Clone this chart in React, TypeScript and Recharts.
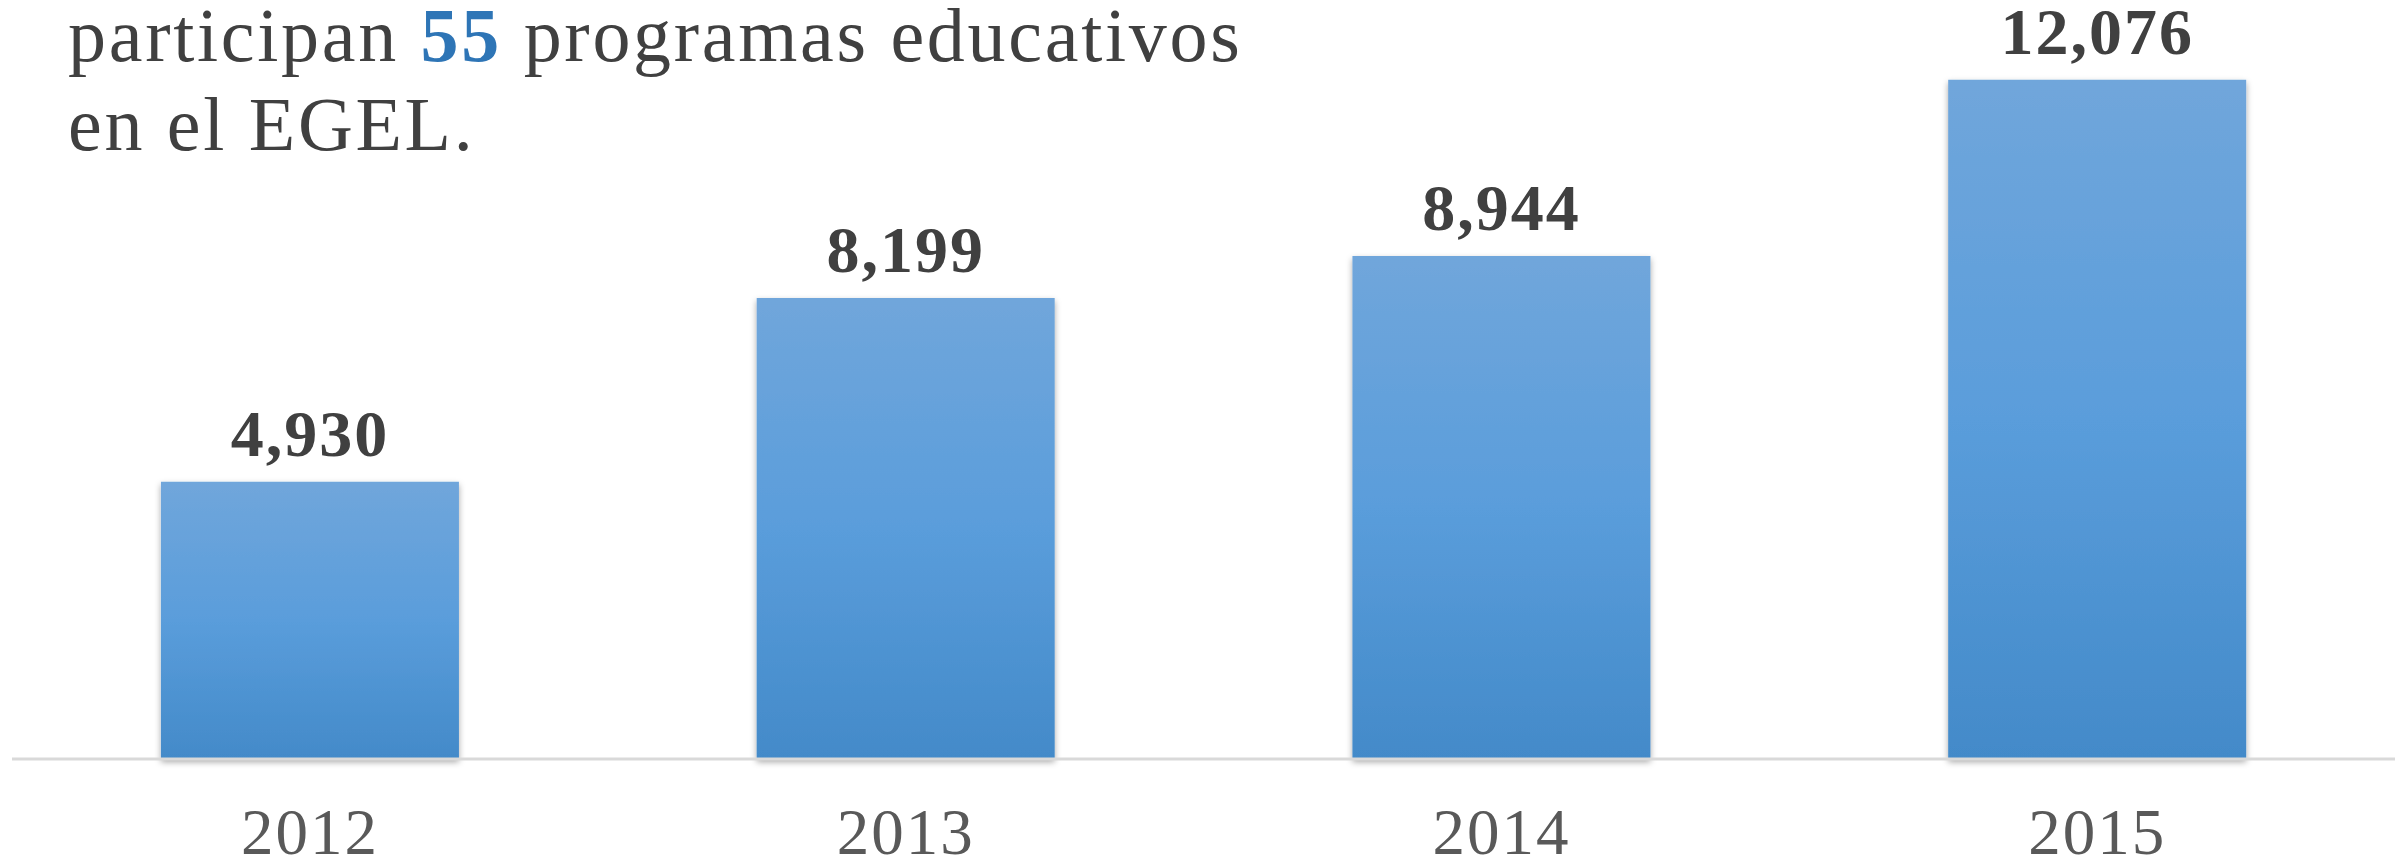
import React from "react";
import { BarChart, Bar, XAxis, YAxis, LabelList } from "recharts";

const years = ["2012", "2013", "2014", "2015"];
const sustentantes = [4930, 8199, 8944, 12076];

const data = years.map((y, i) => ({ year: y, value: sustentantes[i] }));

const fmt = (v: number) => v.toLocaleString("en-US");

export default function App() {
  return (
    <div style={{ position: "fixed", left: 0, top: 0, width: 2404, height: 863, background: "#fff", overflow: "hidden" }}>
      <BarChart width={2404} height={863} data={data} margin={{ top: 56, right: 9, bottom: 0, left: 12 }} barCategoryGap="25%">
        <defs>
          <linearGradient id="barGrad" x1="0" y1="0" x2="0" y2="1">
            <stop offset="0%" stopColor="#70a6db" />
            <stop offset="50%" stopColor="#5a9ddb" />
            <stop offset="100%" stopColor="#438ac9" />
          </linearGradient>
          <filter id="barShadow" x="-10%" y="-10%" width="120%" height="120%">
            <feDropShadow dx="0" dy="3" stdDeviation="3" floodColor="#000" floodOpacity="0.35" />
          </filter>
        </defs>
        <YAxis hide domain={[0, 12500]} />
        <XAxis
          dataKey="year"
          height={104}
          tickLine={false}
          tickSize={6}
          tickMargin={43}
          axisLine={{ stroke: "#d9d9d9", strokeWidth: 3 }}
          tick={{ fill: "#595959", fontSize: 65, letterSpacing: 2, fontFamily: "Liberation Serif, serif" }}
        />
        <Bar dataKey="value" fill="url(#barGrad)" filter="url(#barShadow)" isAnimationActive={false}>
          <LabelList
            dataKey="value"
            position="top"
            offset={26}
            formatter={(v: any) => fmt(Number(v))}
            style={{ fill: "#404040", fontSize: 66, fontWeight: 700, letterSpacing: 2, fontFamily: "Liberation Serif, serif" }}
          />
        </Bar>
      </BarChart>
      <div
        style={{
          position: "absolute",
          left: 68,
          top: -9,
          fontFamily: "Liberation Serif, serif",
          fontSize: 76,
          lineHeight: "89px",
          letterSpacing: 2.7,
          color: "#404040",
          whiteSpace: "nowrap",
        }}
      >
        participan <span style={{ color: "#2e75b6", fontWeight: 700 }}>55</span> programas educativos
        <br />
        en el EGEL.
      </div>
    </div>
  );
}
